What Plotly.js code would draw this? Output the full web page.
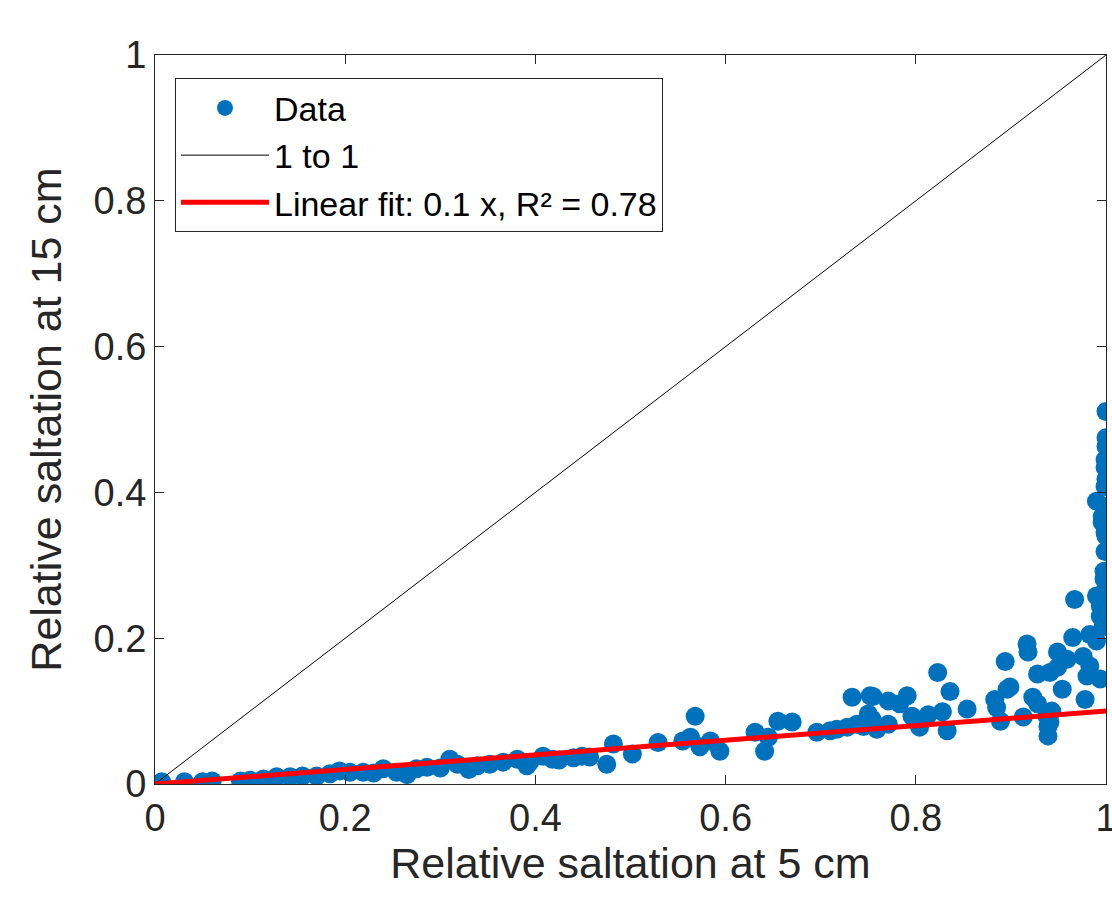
<!DOCTYPE html>
<html>
<head>
<meta charset="utf-8">
<script src="https://cdn.plot.ly/plotly-3.0.1.min.js"></script>
<style>html,body{margin:0;padding:0;background:#fff;}#chart{width:1112px;height:897px;}</style>
</head>
<body>
<div id="chart"></div>
<script>
// Relative saltation at 5 cm (x) and at 15 cm (y)
const dataX = [
  0.007,0.031,0.050,0.060,0.090,0.100,0.114,0.128,0.142,0.155,0.170,0.184,0.194,0.205,0.219,0.230,0.240,0.254,0.265,0.275,0.286,0.300,0.310,0.318,0.330,0.339,0.352,0.366,0.381,0.391,
  0.394,0.408,0.418,0.425,0.440,0.449,0.457,0.475,0.482,0.502,0.529,0.555,0.563,0.568,0.573,0.584,0.594,
  0.631,0.641,0.645,0.655,0.670,0.696,0.710,0.717,0.728,0.733,0.738,0.745,0.750,0.752,0.755,0.754,0.759,0.771,0.771,0.783,0.791,0.796,0.804,0.813,
  0.823,0.828,0.833,0.836,0.854,0.883,0.885,0.889,0.894,0.896,0.899,0.913,0.917,0.918,0.923,0.928,0.928,0.938,0.939,0.939,0.941,0.941,0.943,0.949,0.949,0.954,0.959,0.965,0.967,0.976,0.978,0.980,0.983,0.983,
  0.990,0.990,0.994,0.994,0.994,0.997,0.998,0.998,0.998,0.999,1.000,0.999,0.996,0.996,0.999,0.990,0.999,1.000,0.999,0.999,1.000,1.000,1.000
];
const dataY = [
  0.003,0.003,0.003,0.004,0.004,0.005,0.007,0.010,0.010,0.011,0.011,0.014,0.018,0.016,0.016,0.015,0.021,0.016,0.013,0.021,0.023,0.022,0.034,0.027,0.020,0.025,0.027,0.030,0.034,0.025,
  0.030,0.038,0.034,0.033,0.036,0.038,0.037,0.027,0.055,0.041,0.057,0.059,0.064,0.093,0.051,0.059,0.045,
  0.071,0.045,0.064,0.086,0.085,0.071,0.073,0.075,0.078,0.119,0.082,0.079,0.096,0.121,0.120,0.089,0.075,0.114,0.082,0.110,0.121,0.093,0.078,0.095,
  0.153,0.099,0.073,0.127,0.103,0.116,0.105,0.086,0.168,0.130,0.133,0.092,0.192,0.181,0.119,0.110,0.151,0.093,0.079,0.066,0.153,0.085,0.100,0.181,0.160,0.130,0.171,0.201,0.253,0.175,0.116,0.148,0.205,0.162,
  0.258,0.196,0.230,0.144,0.244,0.216,0.263,0.281,0.292,0.319,0.340,0.345,0.359,0.367,0.381,0.388,0.408,0.418,0.434,0.445,0.463,0.475,0.511
];
// reference lines
const oneToOneX = [0, 1];
const oneToOneY = [0, 1];
const fitSlope = 0.1;
const fitX = [0, 1];
const fitY = fitX.map(v => fitSlope * v);
const tickVals = [0, 0.2, 0.4, 0.6, 0.8, 1];
const tickText = ['0', '0.2', '0.4', '0.6', '0.8', '1'];

const axisColor = '#262626';
const font = 'Liberation Sans, Arial, Helvetica, sans-serif';

const traces = [
  {x: dataX, y: dataY, type: 'scatter', mode: 'markers', name: 'Data',
   marker: {color: '#0072BD', size: 19, line: {width: 0}}, legendgroup: 'a'},
  {x: oneToOneX, y: oneToOneY, type: 'scatter', mode: 'lines', name: '1 to 1',
   line: {color: '#000000', width: 1}, legendgroup: 'b'},
  {x: fitX, y: fitY, type: 'scatter', mode: 'lines', name: 'Linear fit: 0.1 x, R² = 0.78',
   line: {color: '#FF0000', width: 5}, legendgroup: 'c'}
];

const axisCommon = {
  range: [0, 1], showgrid: false, zeroline: false,
  showline: true, linecolor: axisColor, linewidth: 1, mirror: 'ticks',
  ticks: 'inside', ticklen: 9, tickcolor: axisColor, tickwidth: 1,
  tickfont: {family: font, size: 38, color: axisColor},
  tickvals: tickVals, ticktext: tickText, ticklabeloverflow: 'allow'
};

const layout = {
  width: 1112, height: 897,
  margin: {l: 155, r: 6, t: 55, b: 113},
  paper_bgcolor: '#ffffff', plot_bgcolor: '#ffffff',
  font: {family: font, color: axisColor},
  showlegend: true,
  xaxis: Object.assign({}, axisCommon, {
    title: {text: 'Relative saltation at 5 cm', font: {family: font, size: 43, color: axisColor}, standoff: 8}
  }),
  yaxis: Object.assign({}, axisCommon, {
    title: {text: 'Relative saltation at 15 cm', font: {family: font, size: 43, color: axisColor}, standoff: 18}
  }),
  legend: {
    x: 0.021, y: 0.968, xanchor: 'left', yanchor: 'top',
    bgcolor: '#ffffff', bordercolor: axisColor, borderwidth: 1,
    font: {family: font, size: 34, color: '#000000'},
    itemwidth: 88, traceorder: 'normal'
  }
};

Plotly.newPlot('chart', traces, layout, {displayModeBar: false, staticPlot: true});
</script>
</body>
</html>
